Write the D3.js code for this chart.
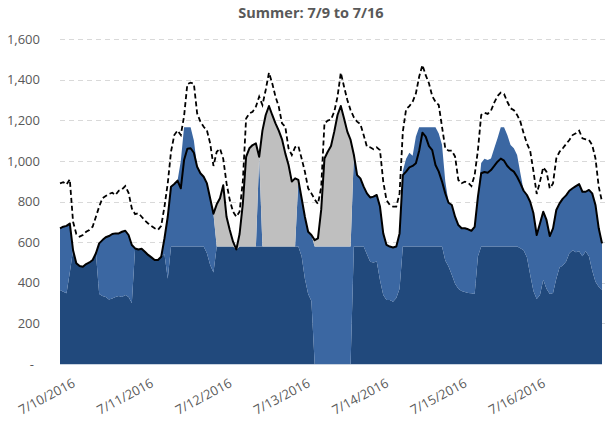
<!DOCTYPE html>
<html>
<head>
<meta charset="utf-8">
<script src="https://cdn.jsdelivr.net/npm/d3@7/dist/d3.min.js"></script>
<style>
  html, body { margin: 0; padding: 0; background: #fff; }
  svg { display: block; font-family: "Open Sans", "Liberation Sans", sans-serif; }
</style>
</head>
<body>
<script>
// Hourly readings, starting 7/9/2016 21:00 (167 hours)
const startTime = new Date(2016, 6, 9, 21, 0, 0);

// Solid line: total load (MW)
const load = [
  668,676,680,692,560,496,482,479,492,500,
  512,545,594,610,624,630,640,643,643,651,
  656,635,586,569,564,567,553,537,525,512,
  512,528,619,725,873,886,903,865,1004,1060,
  1062,1040,971,939,922,889,815,740,786,816,
  880,725,660,602,564,640,790,1020,1062,1078,
  1086,1020,1149,1226,1270,1226,1185,1149,1106,1037,
  980,898,914,906,816,725,651,635,610,619,
  760,1012,1045,1073,1144,1226,1270,1209,1144,1103,
  1030,930,914,873,840,820,824,832,775,643,
  586,578,574,578,643,930,947,968,975,988,
  1050,1139,1119,1073,1053,980,947,898,840,794,
  783,725,684,668,668,663,656,675,824,939,
  945,942,955,975,996,1011,1001,975,958,947,
  922,889,853,832,799,742,635,692,750,709,
  630,668,758,791,814,830,853,865,876,886,
  848,848,857,840,783,668,594
];

// Dashed line: peak estimate (MW)
const peak = [
  889,895,884,909,700,640,627,635,651,660,
  676,725,775,816,827,837,843,832,853,860,
  876,843,766,738,742,725,706,692,679,668,
  660,680,775,889,1045,1127,1149,1127,1220,1378,
  1385,1380,1234,1193,1168,1150,1086,975,1045,1060,
  1010,890,807,750,725,750,900,1209,1234,1242,
  1267,1316,1275,1349,1434,1382,1316,1267,1185,1168,
  1061,1029,1067,1073,1012,947,865,840,811,788,
  870,1185,1198,1204,1242,1316,1434,1365,1300,1250,
  1214,1193,1181,1127,1070,1067,1057,1067,1053,898,
  807,783,775,775,840,1144,1254,1270,1291,1332,
  1414,1472,1422,1382,1319,1291,1275,1168,1062,1050,
  1050,1021,906,890,898,893,876,930,1053,1226,
  1237,1231,1247,1287,1319,1336,1329,1291,1259,1250,
  1226,1193,1136,1086,1050,950,837,898,968,947,
  865,889,1012,1045,1062,1083,1103,1127,1136,1149,
  1111,1106,1103,1078,1012,873,799
];

// Stacked supply layers (MW)
const base = [
  364,356,348,450,560,496,482,479,492,500,
  512,545,345,335,330,318,322,330,335,330,
  340,330,300,569,564,567,553,537,525,512,
  512,528,540,420,578,578,578,578,578,578,
  578,578,578,578,578,545,487,450,578,578,
  578,578,578,578,564,578,578,578,578,578,
  578,578,578,578,578,578,578,578,578,578,
  578,578,578,578,530,420,345,310,0,0,
  0,0,0,0,0,0,0,0,0,0,
  578,578,578,578,540,504,500,505,413,340,
  315,315,306,325,370,578,578,578,578,578,
  578,578,578,578,578,578,578,578,510,480,
  440,395,370,360,355,350,348,345,530,578,
  578,578,578,578,578,578,578,578,578,578,
  578,570,560,525,440,360,320,340,415,370,
  345,350,420,475,485,505,545,560,550,555,
  530,555,530,460,405,380,365
];

const mid = [
  304,320,332,242,0,0,0,0,0,0,
  0,0,249,275,294,312,318,313,308,321,
  316,305,286,0,0,0,0,0,0,0,
  0,0,79,305,295,308,325,422,587,587,
  587,522,393,361,344,344,328,290,0,0,
  0,0,0,0,0,0,0,0,0,0,
  0,442,0,0,0,0,0,0,0,0,
  0,0,0,328,286,305,306,325,578,578,
  578,578,578,578,578,578,578,578,578,578,
  452,352,336,295,300,316,324,327,362,303,
  271,263,268,253,273,372,432,462,447,542,
  587,587,587,587,587,587,557,502,390,314,
  343,330,314,308,313,313,308,330,294,412,
  432,426,434,484,533,587,587,549,500,484,
  451,369,293,307,359,382,315,352,335,339,
  285,318,338,316,329,325,308,305,326,331,
  318,293,327,380,378,288,229
];

const gray = [
  0,0,0,0,0,0,0,0,0,0,
  0,0,0,0,0,0,0,0,0,0,
  0,0,0,0,0,0,0,0,0,0,
  0,0,0,0,0,0,0,0,0,0,
  0,0,0,0,0,0,0,0,208,238,
  302,147,82,24,0,62,212,442,484,500,
  508,0,571,648,692,648,607,571,528,459,
  402,320,336,0,0,0,0,0,32,41,
  182,434,467,495,566,648,692,631,566,525,
  0,0,0,0,0,0,0,0,0,0,
  0,0,0,0,0,0,0,0,0,0,
  0,0,0,0,0,0,0,0,0,0,
  0,0,0,0,0,0,0,0,0,0,
  0,0,0,0,0,0,0,0,0,0,
  0,0,0,0,0,0,0,0,0,0,
  0,0,0,0,0,0,0,0,0,0,
  0,0,0,0,0,0,0
];

const yTicks = [0, 200, 400, 600, 800, 1000, 1200, 1400, 1600];
const dateTicks = ["2016-07-10","2016-07-11","2016-07-12","2016-07-13","2016-07-14","2016-07-15","2016-07-16"];
const layerKeys = ["base", "mid", "gray"];
const layerColors = { base: "#21497c", mid: "#3b67a2", gray: "#bfbfbf" };
const title = "Summer: 7/9 to 7/16";

const W = 605, H = 423;
const margin = { left: 60, right: 3, top: 39, bottom: 59 };
const hour = 3600 * 1000;

const rows = load.map((v, i) => ({
  t: new Date(startTime.getTime() + i * hour),
  load: v, peak: peak[i], base: base[i], mid: mid[i], gray: gray[i]
}));

const x = d3.scaleTime()
  .domain([rows[0].t, rows[rows.length - 1].t])
  .range([margin.left, W - margin.right]);
const y = d3.scaleLinear()
  .domain([0, 1600])
  .range([H - margin.bottom, margin.top]);

const svg = d3.select("body").append("svg")
  .attr("width", W).attr("height", H);

// Title
svg.append("text")
  .attr("x", 311).attr("y", 18)
  .attr("text-anchor", "middle")
  .attr("font-size", 14.5).attr("font-weight", 700)
  .attr("fill", "#595959")
  .text(title);

// Horizontal gridlines
svg.append("g").selectAll("line")
  .data(yTicks.filter(d => d > 0))
  .join("line")
  .attr("x1", margin.left).attr("x2", W)
  .attr("y1", d => Math.round(y(d)) + 0.5).attr("y2", d => Math.round(y(d)) + 0.5)
  .attr("stroke", "#d9d9d9").attr("stroke-width", 1)
  .attr("stroke-dasharray", "5,4");

// Y axis labels
const yAxis = d3.axisLeft(y)
  .tickValues(yTicks)
  .tickSize(0)
  .tickPadding(20)
  .tickFormat(d => d === 0 ? "-" : d3.format(",")(d));
const yg = svg.append("g")
  .attr("transform", `translate(${margin.left},0)`)
  .call(yAxis);
yg.select(".domain").remove();
yg.selectAll("text")
  .attr("font-size", 13).attr("fill", "#595959")
  .attr("font-family", "'Open Sans', sans-serif")
  .attr("dx", d => d === 0 ? -6 : 0);

// Stacked areas
const stack = d3.stack().keys(layerKeys);
const series = stack(rows);
const area = d3.area()
  .x(d => x(d.data.t))
  .y0(d => y(d[0]))
  .y1(d => y(d[1]));
svg.append("g").selectAll("path")
  .data(series)
  .join("path")
  .attr("fill", d => layerColors[d.key])
  .attr("d", area);

// Baseline
svg.append("line")
  .attr("x1", margin.left).attr("x2", W - margin.right)
  .attr("y1", y(0) + 0.5).attr("y2", y(0) + 0.5)
  .attr("stroke", "#c9d3e0").attr("stroke-width", 1);

// Peak estimate (dashed) and load (solid)
const lineOf = key => d3.line().x(d => x(d.t)).y(d => y(d[key]));
svg.append("path")
  .datum(rows)
  .attr("fill", "none").attr("stroke", "#000")
  .attr("stroke-width", 1.8).attr("stroke-dasharray", "5,3")
  .attr("d", lineOf("peak"));
svg.append("path")
  .datum(rows)
  .attr("fill", "none").attr("stroke", "#000")
  .attr("stroke-width", 2).attr("stroke-linejoin", "round")
  .attr("d", lineOf("load"));

// Date labels
const parse = d3.timeParse("%Y-%m-%d");
const fmt = d3.timeFormat("%-m/%-d/%Y");
svg.append("g").selectAll("text")
  .data(dateTicks.map(parse))
  .join("text")
  .attr("transform", d => `translate(${x(d) + 2},${378}) rotate(-28)`)
  .attr("text-anchor", "end")
  .attr("dy", "0.7em")
  .attr("font-size", 13).attr("fill", "#595959")
  .text(d => fmt(d));
</script>
</body>
</html>
